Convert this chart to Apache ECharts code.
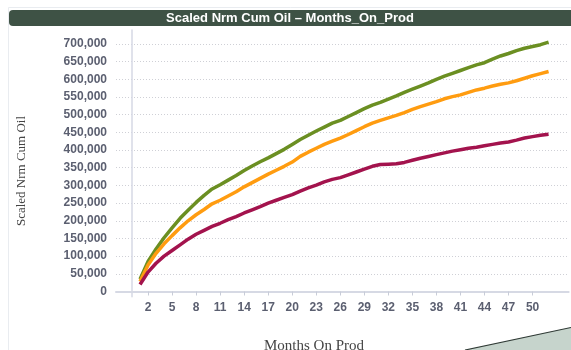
<!DOCTYPE html>
<html>
<head>
<meta charset="utf-8">
<script src="https://cdn.jsdelivr.net/npm/echarts@6/dist/echarts.min.js"></script>
<style>
  html, body { margin: 0; padding: 0; background: #ffffff; }
  #chart { width: 571px; height: 350px; }
</style>
</head>
<body>
<div id="chart"></div>
<script>
// Months on production (x values shared by every series)
const months = Array.from({ length: 52 }, (_, i) => i + 1);

// Scaled normalised cumulative oil per well group
const seriesGreen = [
  35000, 85000, 120000, 152000, 180000, 207000, 230000, 252000, 272000, 290000,
  302000, 315000, 328000, 342000, 355000, 367000, 378000, 390000, 402000, 416000,
  430000, 442000, 454000, 465000, 476000, 484000, 495000, 506000, 517000, 527000,
  535000, 544000, 553000, 563000, 572000, 581000, 590000, 600000, 609000, 617000,
  625000, 633000, 641000, 647000, 657000, 666000, 673000, 681000, 688000, 693000,
  698000, 705000
];
const seriesOrange = [
  28000, 75000, 108000, 135000, 158000, 180000, 200000, 217000, 232000, 248000,
  258000, 270000, 282000, 296000, 308000, 320000, 332000, 343000, 354000, 366000,
  382000, 394000, 405000, 416000, 425000, 434000, 444000, 455000, 466000, 476000,
  484000, 491000, 498000, 506000, 515000, 523000, 530000, 537000, 545000, 551000,
  556000, 563000, 570000, 575000, 581000, 586000, 590000, 596000, 603000, 610000,
  616000, 622000
];
const seriesRed = [
  20000, 55000, 80000, 100000, 116000, 132000, 148000, 162000, 173000, 184000,
  193000, 203000, 212000, 222000, 231000, 240000, 250000, 258000, 266000, 274000,
  284000, 293000, 301000, 310000, 317000, 322000, 330000, 338000, 346000, 354000,
  359000, 360000, 361000, 365000, 371000, 377000, 382000, 387000, 392000, 397000,
  401000, 405000, 408000, 412000, 416000, 420000, 423000, 428000, 434000, 438000,
  442000, 445000
];

// Axis tick labels
const xTicks = [2, 5, 8, 11, 14, 17, 20, 23, 26, 29, 32, 35, 38, 41, 44, 47, 50];
const yTicks = [0, 50000, 100000, 150000, 200000, 250000, 300000, 350000,
  400000, 450000, 500000, 550000, 600000, 650000, 700000];

const titleText = 'Scaled Nrm Cum Oil \u2013 Months_On_Prod';
const yName = 'Scaled Nrm Cum Oil';
const xName = 'Months On Prod';

const pairs = vals => months.map((m, i) => [m, vals[i]]);

const labelStyle = {
  color: '#5b5f70',
  fontFamily: 'Liberation Sans, Arial, sans-serif',
  fontSize: 12,
  fontWeight: 'bold'
};

const lineSeries = (name, vals, color) => ({
  name,
  type: 'line',
  data: pairs(vals),
  showSymbol: false,
  smooth: false,
  lineStyle: { color, width: 3.5 },
  itemStyle: { color },
  silent: true,
  animation: false
});

const chart = echarts.init(document.getElementById('chart'), null, { renderer: 'canvas' });

chart.setOption({
  animation: false,
  backgroundColor: '#ffffff',
  grid: { left: 116, right: 2.4, top: 30, bottom: 53.3, containLabel: false },
  xAxis: {
    type: 'value',
    min: -2,
    max: 54.5,
    axisLine: { show: true, lineStyle: { color: '#d6d9e4', width: 2 } },
    axisTick: { show: true, length: 4, customValues: xTicks, lineStyle: { color: '#c8ccd8' } },
    axisLabel: Object.assign({ customValues: xTicks, margin: 5 }, labelStyle),
    splitLine: { show: false }
  },
  yAxis: {
    type: 'value',
    min: -14700,
    max: 739500,
    axisLine: { show: true, lineStyle: { color: '#d6d9e4', width: 1.5 } },
    axisTick: { show: false, customValues: yTicks },
    axisLabel: Object.assign({
      customValues: yTicks,
      margin: 9,
      formatter: v => v.toLocaleString('en-US')
    }, labelStyle),
    splitLine: { show: true, lineStyle: { color: '#cfd0d6', type: [1, 2], width: 1 } }
  },
  series: [
    lineSeries('Group A', seriesGreen, '#6b8f22'),
    lineSeries('Group B', seriesOrange, '#ff9c10'),
    lineSeries('Group C', seriesRed, '#a3134d')
  ],
  graphic: [
    // light panel frame
    {
      type: 'rect', silent: true, z: -10,
      shape: { x: 8.5, y: 7.5, width: 620, height: 400 },
      style: { fill: 'none', stroke: '#e9ecf0', lineWidth: 1 }
    },
    // title bar
    {
      type: 'rect', silent: true,
      shape: { x: 9, y: 10, width: 580, height: 16, r: [4, 0, 0, 4] },
      style: { fill: '#3e5245' }
    },
    {
      type: 'text', silent: true,
      x: 290, y: 18,
      style: {
        text: titleText,
        fill: '#ffffff',
        font: 'bold 13px "Liberation Sans", Arial, sans-serif',
        align: 'center', verticalAlign: 'middle'
      }
    },
    // y-axis title
    {
      type: 'text', silent: true,
      x: 22, y: 171, rotation: Math.PI / 2,
      style: {
        text: yName,
        fill: '#454545',
        font: '13px "Liberation Serif", "Times New Roman", serif',
        align: 'center', verticalAlign: 'middle'
      }
    },
    // x-axis title
    {
      type: 'text', silent: true,
      x: 314, y: 346,
      style: {
        text: xName,
        fill: '#454545',
        font: '15px "Liberation Serif", "Times New Roman", serif',
        align: 'center', verticalAlign: 'middle'
      }
    },
    // corner decoration
    {
      type: 'polygon', silent: true,
      shape: { points: [[465, 350], [571, 327.5], [571, 350]] },
      style: { fill: '#c6d4cc' }
    },
    {
      type: 'polyline', silent: true,
      shape: { points: [[465, 350], [571, 327.5]] },
      style: { stroke: '#2f3a35', lineWidth: 1.2 }
    }
  ]
});
</script>
</body>
</html>
